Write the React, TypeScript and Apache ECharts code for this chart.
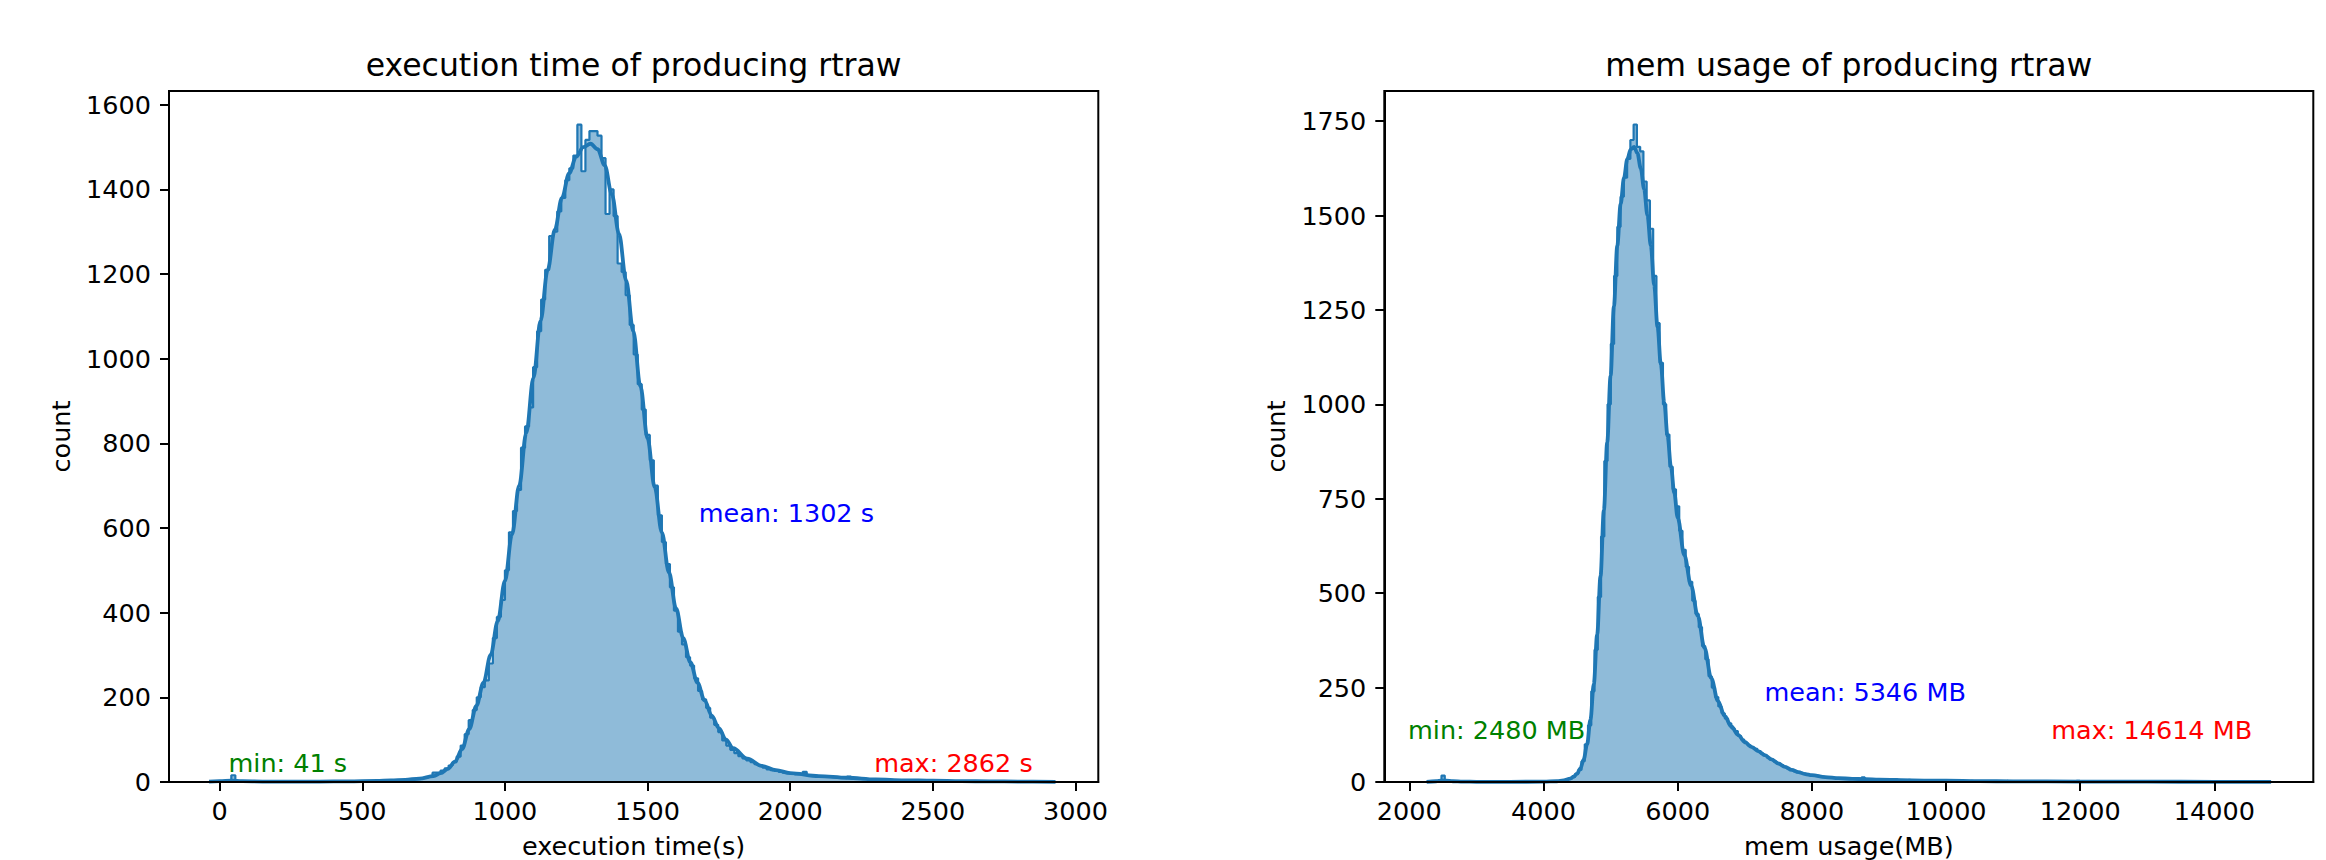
import React, { useEffect, useRef } from "react";
import * as echarts from "echarts";

// ---------- execution time histogram (bins from min to max) ----------
const execBinStart = 41;
const execBinEnd = 2862;
const execCounts = [
  16,
  1, 1, 0, 1, 0, 1, 0, 1, 0, 1,
  0, 1, 1, 0, 1, 0, 1, 1, 0, 1,
  1, 0, 1, 1, 1, 0, 1, 1, 1, 1,
  2, 1, 2, 1, 2, 2, 2, 3, 3, 3,
  4, 4, 5, 5, 6, 7, 9, 11, 13, 22,
  22, 27, 32, 39, 47, 60, 86, 113, 146, 170,
  200, 224, 240, 280, 340, 390, 430, 500, 590, 640,
  690, 790, 840, 885, 980, 1065, 1140, 1210, 1290, 1300,
  1348, 1380, 1422, 1450, 1480, 1553, 1443, 1517, 1538, 1538,
  1527, 1474, 1342, 1400, 1337, 1225, 1205, 1150, 1080, 1010,
  940, 880, 820, 760, 700, 630, 567, 515, 460, 405,
  355, 325, 295, 275, 245, 215, 195, 175, 152, 135,
  118, 98, 86, 76, 68, 61, 56, 51, 47, 42,
  39, 34, 30, 28, 26, 24, 22, 21, 20, 18,
  18, 24, 16, 15, 14, 13, 12, 12, 11, 10,
  10, 9, 13, 8, 8, 7, 7, 6, 6, 6,
  5, 5, 5, 4, 4, 4, 4, 3, 3, 3,
  3, 3, 2, 2, 2, 2, 2, 2, 2, 2,
  1, 2, 1, 1, 1, 1, 1, 1, 1, 1,
  1, 0, 1, 1, 0, 1, 0, 0, 1,
];
const execKdeX = [
  -37, 0, 41, 80, 150, 250, 350, 450, 550, 600,
  650, 700, 750, 775, 800, 825, 850, 875, 900, 925,
  950, 975, 1000, 1025, 1050, 1075, 1100, 1125, 1150, 1175,
  1200, 1225, 1250, 1275, 1300, 1325, 1350, 1375, 1400, 1425,
  1450, 1475, 1500, 1525, 1550, 1575, 1600, 1625, 1650, 1675,
  1700, 1725, 1750, 1775, 1800, 1850, 1900, 1950, 2000, 2100,
  2200, 2300, 2400, 2500, 2600, 2700, 2800, 2930,
];
const execKdeY = [
  1, 2, 3, 2, 1, 1, 1, 1.5, 2.5, 3.5,
  5, 8, 14, 21, 31, 48, 78, 125, 180, 235,
  300, 380, 475, 585, 700, 825, 955, 1090, 1210, 1305,
  1380, 1438, 1477, 1500, 1508, 1495, 1457, 1388, 1295, 1185,
  1065, 935, 812, 697, 590, 495, 410, 340, 283, 235,
  193, 157, 127, 100, 80, 55, 38, 28, 21, 14,
  10, 6, 4, 3, 2, 1.5, 1, 0.5,
];
const execXTicks = [0, 500, 1000, 1500, 2000, 2500, 3000];
const execYTicks = [0, 200, 400, 600, 800, 1000, 1200, 1400, 1600];
const execNotes = [
  { text: "min: 41 s", x: 33, y: 22 },
  { text: "mean: 1302 s", x: 1681, y: 613 },
  { text: "max: 2862 s", x: 2296, y: 22 },
];

// ---------- memory usage histogram ----------
const memBinStart = 2480;
const memBinEnd = 14614;
const memCounts = [
  17,
  2, 2, 1, 1, 1, 1, 0, 1, 0, 1,
  0, 0, 1, 0, 0, 1, 0, 0, 1, 0,
  0, 1, 0, 1, 0, 1, 1, 0, 1, 1,
  1, 1, 2, 2, 2, 3, 4, 6, 8, 13,
  21, 32, 55, 100, 150, 240, 350, 490, 650, 850,
  1000, 1160, 1340, 1470, 1550, 1600, 1650, 1700, 1741, 1682,
  1670, 1590, 1540, 1465, 1340, 1215, 1110, 1000, 920, 835,
  775, 730, 665, 615, 570, 530, 480, 445, 410, 360,
  325, 280, 250, 225, 200, 182, 168, 155, 142, 135,
  122, 112, 103, 97, 92, 88, 82, 75, 70, 64,
  59, 54, 49, 45, 40, 36, 32, 29, 26, 24,
  22, 20, 18, 17, 16, 14, 13, 12, 12, 11,
  10, 10, 9, 9, 9, 8, 8, 8, 12, 7,
  7, 7, 6, 8, 6, 6, 6, 5, 7, 5,
  5, 5, 6, 4, 4, 4, 4, 4, 3, 4,
  3, 3, 3, 5, 3, 3, 3, 2, 3, 2,
  2, 3, 2, 2, 2, 2, 2, 1, 2, 2,
  1, 2, 3, 1, 2, 1, 2, 1, 1, 2,
  1, 1, 2, 1, 1, 1, 0, 1, 1, 1,
  1, 2, 1, 1, 3, 1, 1, 0, 1, 1,
  1, 0, 1, 1, 0, 1, 1, 0, 1, 0,
  1, 1, 0, 1, 0, 0, 1, 0, 1, 0,
  0, 1, 0, 1, 0, 0, 1, 0, 0, 1,
  0, 1, 0, 0, 1, 0, 0, 1, 0, 0,
  1, 0, 0, 1, 0, 0, 0, 1, 1,
];
const memKdeX = [
  2258, 2400, 2480, 2550, 2650, 2800, 3000, 3500, 4000, 4200,
  4300, 4400, 4450, 4500, 4550, 4600, 4650, 4700, 4750, 4800,
  4850, 4900, 4950, 5000, 5050, 5100, 5150, 5200, 5250, 5300,
  5350, 5400, 5450, 5500, 5550, 5600, 5650, 5700, 5750, 5800,
  5850, 5900, 5950, 6000, 6100, 6200, 6300, 6400, 6500, 6600,
  6700, 6800, 6900, 7000, 7100, 7200, 7300, 7400, 7500, 7600,
  7700, 7800, 7900, 8000, 8200, 8400, 8600, 8800, 9000, 9500,
  10000, 10500, 11000, 12000, 13000, 14000, 14845,
];
const memKdeY = [
  0.3, 2, 3.5, 3.5, 2, 1, 0.5, 0.5, 0.8, 2,
  4, 9, 14, 22, 36, 60, 100, 165, 260, 390,
  545, 720, 900, 1075, 1260, 1420, 1530, 1600, 1650, 1675,
  1682, 1665, 1625, 1570, 1500, 1420, 1315, 1205, 1105, 1005,
  915, 835, 765, 700, 600, 520, 440, 355, 275, 215,
  175, 147, 125, 106, 93, 82, 71, 60, 49, 40,
  32, 26, 21, 18, 13, 10, 8.5, 7.5, 6.5, 4.5,
  3.3, 2.3, 1.8, 1.2, 0.8, 0.5, 0.2,
];
const memXTicks = [2000, 4000, 6000, 8000, 10000, 12000, 14000];
const memYTicks = [0, 250, 500, 750, 1000, 1250, 1500, 1750];
const memNotes = [
  { text: "min: 2480 MB", x: 1988, y: 112 },
  { text: "mean: 5346 MB", x: 7300, y: 213 },
  { text: "max: 14614 MB", x: 11575, y: 112 },
];

const noteColors = ["#008000", "#0000ff", "#ff0000"];

const FONT = "DejaVu Sans";
const BLUE = "#1f77b4";
const FILL = "rgba(31,119,180,0.5)";
const FS = 25.5;
const TITLE_FS = 31.5;

function stepPoints(start: number, end: number, counts: number[]) {
  const w = (end - start) / counts.length;
  const pts: number[][] = [[start, 0]];
  counts.forEach((c, i) => {
    pts.push([start + i * w, c]);
    pts.push([start + (i + 1) * w, c]);
  });
  pts.push([end, 0]);
  return pts;
}

function zip(xs: number[], ys: number[]) {
  return xs.map((x, i) => [x, ys[i]]);
}

function xAxis(gridIndex: number, min: number, max: number, ticks: number[], name: string) {
  return {
    type: "value",
    gridIndex,
    min,
    max,
    name,
    nameLocation: "middle",
    nameGap: 51,
    nameTextStyle: { fontSize: FS, color: "#000", fontFamily: FONT },
    axisLine: { show: true, onZero: false, lineStyle: { color: "#000", width: 2 } },
    axisTick: { show: true, length: 9, lineStyle: { color: "#000", width: 2 }, customValues: ticks },
    axisLabel: {
      show: true,
      customValues: ticks,
      formatter: (v: number) => String(v),
      fontSize: FS,
      color: "#000",
      fontFamily: FONT,
      margin: 16,
    },
    splitLine: { show: false },
    z: 5,
  };
}

function yAxis(gridIndex: number, max: number, ticks: number[]) {
  return {
    type: "value",
    gridIndex,
    min: 0,
    max,
    name: "count",
    nameLocation: "middle",
    nameRotate: 90,
    nameGap: 95,
    nameTextStyle: { fontSize: FS, color: "#000", fontFamily: FONT },
    axisLine: { show: true, onZero: false, lineStyle: { color: "#000", width: 2 } },
    axisTick: { show: true, length: 9, lineStyle: { color: "#000", width: 2 }, customValues: ticks },
    axisLabel: {
      show: true,
      customValues: ticks,
      formatter: (v: number) => String(v),
      fontSize: FS,
      color: "#000",
      fontFamily: FONT,
      margin: 18,
    },
    splitLine: { show: false },
    z: 5,
  };
}

function histSeries(idx: number, start: number, end: number, counts: number[]) {
  return {
    type: "line",
    xAxisIndex: idx,
    yAxisIndex: idx,
    data: stepPoints(start, end, counts),
    symbol: "none",
    showSymbol: false,
    lineStyle: { color: BLUE, width: 2.2 },
    itemStyle: { color: BLUE },
    areaStyle: { color: FILL, opacity: 1 },
    silent: true,
    z: 2,
  };
}

function kdeSeries(idx: number, xs: number[], ys: number[]) {
  return {
    type: "line",
    xAxisIndex: idx,
    yAxisIndex: idx,
    data: zip(xs, ys),
    smooth: 0.35,
    smoothMonotone: "x",
    symbol: "none",
    showSymbol: false,
    lineStyle: { color: BLUE, width: 3.8 },
    itemStyle: { color: BLUE },
    silent: true,
    z: 3,
  };
}

function noteSeries(idx: number, notes: { text: string; x: number; y: number }[]) {
  return {
    type: "scatter",
    xAxisIndex: idx,
    yAxisIndex: idx,
    symbolSize: 1,
    itemStyle: { color: "rgba(0,0,0,0)", opacity: 1 },
    silent: true,
    clip: false,
    z: 6,
    data: notes.map((n, i) => ({
      value: [n.x, n.y],
      label: { formatter: n.text, color: noteColors[i], opacity: 1 },
    })),
    label: {
      show: true,
      position: [0, 0],
      align: "left",
      verticalAlign: "bottom",
      offset: [0, 4],
      fontSize: FS,
      fontFamily: FONT,
      opacity: 1,
    },
  };
}

const GRID_TOP = 91;
const GRID_H = 691;
const LEFT_GRID = { left: 169, width: 929.3 };
const RIGHT_GRID = { left: 1384.3, width: 929 };

const option = {
  animation: false,
  backgroundColor: "#ffffff",
  grid: [
    {
      left: LEFT_GRID.left,
      top: GRID_TOP,
      width: LEFT_GRID.width,
      height: GRID_H,
      show: true,
      borderColor: "#000",
      borderWidth: 2,
      backgroundColor: "rgba(0,0,0,0)",
      containLabel: false,
      outerBoundsMode: "none",
    },
    {
      left: RIGHT_GRID.left,
      top: GRID_TOP,
      width: RIGHT_GRID.width,
      height: GRID_H,
      show: true,
      borderColor: "#000",
      borderWidth: 2,
      backgroundColor: "rgba(0,0,0,0)",
      containLabel: false,
      outerBoundsMode: "none",
    },
  ],
  xAxis: [
    xAxis(0, -177.4, 3080, execXTicks, "execution time(s)"),
    xAxis(1, 1627.4, 15474, memXTicks, "mem usage(MB)"),
  ],
  yAxis: [yAxis(0, 1632.6, execYTicks), yAxis(1, 1829.7, memYTicks)],
  series: [
    histSeries(0, execBinStart, execBinEnd, execCounts),
    kdeSeries(0, execKdeX, execKdeY),
    noteSeries(0, execNotes),
    histSeries(1, memBinStart, memBinEnd, memCounts),
    kdeSeries(1, memKdeX, memKdeY),
    noteSeries(1, memNotes),
  ],
  graphic: [
    {
      type: "text",
      x: LEFT_GRID.left + LEFT_GRID.width / 2,
      y: 65.1,
      style: {
        text: "execution time of producing rtraw",
        fontSize: TITLE_FS,
        fontFamily: FONT,
        fill: "#000",
        align: "center",
        verticalAlign: "middle",
      },
    },
    {
      type: "text",
      x: RIGHT_GRID.left + RIGHT_GRID.width / 2,
      y: 65.1,
      style: {
        text: "mem usage of producing rtraw",
        fontSize: TITLE_FS,
        fontFamily: FONT,
        fill: "#000",
        align: "center",
        verticalAlign: "middle",
      },
    },
  ],
};

export default function App() {
  const ref = useRef<HTMLDivElement>(null);
  useEffect(() => {
    if (!ref.current) return;
    const chart = echarts.init(ref.current, null, { renderer: "svg" });
    chart.setOption(option as any);
    return () => chart.dispose();
  }, []);
  return (
    <div
      ref={ref}
      style={{ position: "fixed", left: 0, top: 0, width: 2326, height: 860, background: "#fff" }}
    />
  );
}
